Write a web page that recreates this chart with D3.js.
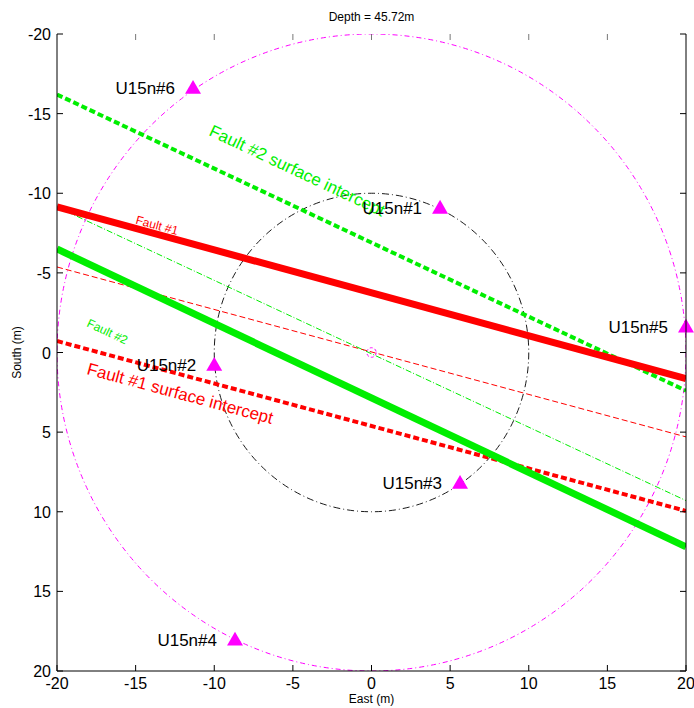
<!DOCTYPE html>
<html><head><meta charset="utf-8">
<script src="https://cdn.jsdelivr.net/npm/d3@7"></script>
<style>body{margin:0;background:#fff}svg{display:block}text{font-family:"Liberation Sans",Arial,sans-serif}</style>
</head><body><svg id="c" width="694" height="708"></svg>
<script>
// ---- data ----
const xTicks = [-20,-15,-10,-5,0,5,10,15,20];
const yTicks = [-20,-15,-10,-5,0,5,10,15,20];
const stationNames = ["U15n#1","U15n#2","U15n#3","U15n#4","U15n#5","U15n#6"];
const stationEast  = [4.36, -10.0, 5.63, -8.68, 20.0, -11.35];
const stationSouth = [-9.07, 0.8, 8.2, 18.05, -1.6, -16.6];
const circleRadii = [20, 10, 0.3];
// lines: [x1, y1, x2, y2]
const fault1Line      = [-20, -9.14, 20, 1.64];
const fault2Line      = [-20, -6.5, 20, 12.2];
const fault1Surface   = [-20, -0.72, 20, 9.95];
const fault2Surface   = [-20, -16.2, 20, 2.4];
const fault1Strike    = [-20, -5.37, 20, 5.3];
const fault2Strike    = [-20, -9.14, 20, 9.3];
const titleText = "Depth = 45.72m";

const svg = d3.select("#c");
const x = d3.scaleLinear().domain([-20,20]).range([57,686]);
const y = d3.scaleLinear().domain([-20,20]).range([34,671]);

svg.append("defs").append("clipPath").attr("id","clip")
  .append("rect").attr("x",57).attr("y",34).attr("width",629).attr("height",637);
const g = svg.append("g").attr("clip-path","url(#clip)");

// circles
const circStyles = [
  {stroke:"#ff00ff", dash:"5,3,1,3", w:1},
  {stroke:"#000", dash:"7,3,1,3", w:0.9},
  {stroke:"#ff00ff", dash:"3,2", w:1}
];
circleRadii.forEach((r,i)=>{
  g.append("ellipse").attr("cx",x(0)).attr("cy",y(0))
   .attr("rx",x(r)-x(0)).attr("ry",y(r)-y(0))
   .attr("fill","none").attr("stroke",circStyles[i].stroke)
   .attr("stroke-width",circStyles[i].w).attr("stroke-dasharray",circStyles[i].dash);
});

function drawLine(L, color, w, dash){
  g.append("line").attr("x1",x(L[0])).attr("y1",y(L[1])).attr("x2",x(L[2])).attr("y2",y(L[3]))
   .attr("stroke",color).attr("stroke-width",w).attr("stroke-dasharray",dash||null);
}
drawLine(fault1Strike, "#ff0000", 1, "6,3");
drawLine(fault2Strike, "#00ee00", 1, "6,2,1,2");
drawLine(fault1Surface, "#ff0000", 4, "6,3");
drawLine(fault2Surface, "#00ee00", 4, "6,3");
drawLine(fault1Line, "#ff0000", 7);
drawLine(fault2Line, "#00ee00", 7);

function angleOf(L){
  return Math.atan2(y(L[3])-y(L[1]), x(L[2])-x(L[0]))*180/Math.PI;
}
function lineLabel(txt, px, py, L, color, size){
  svg.append("text").attr("transform",`translate(${x(px)},${y(py)}) rotate(${angleOf(L)})`)
    .attr("fill",color).attr("font-size",size).text(txt);
}
lineLabel("Fault #2 surface intercept", -10.4, -13.66, fault2Surface, "#00ee00", 17);
lineLabel("Fault #1 surface intercept", -18.15, 1.35, fault1Surface, "#ff0000", 17);
lineLabel("Fault #2", -18.15, -1.66, fault2Line, "#00ee00", 12);
lineLabel("Fault #1", -15.04, -8.1, fault1Line, "#ff0000", 12);

// stations
const tri = d3.symbol().type(d3.symbolTriangle).size(110);
stationNames.forEach((n,i)=>{
  svg.append("path").attr("d",tri()).attr("fill","#ff00ff")
    .attr("transform",`translate(${x(stationEast[i])},${y(stationSouth[i])+1})`);
  svg.append("text").attr("x",x(stationEast[i])-18).attr("y",y(stationSouth[i])+6)
    .attr("text-anchor","end").attr("font-size",17).attr("fill","#000").text(n);
});

// axes
const ax = svg.append("g").attr("stroke","#000").attr("stroke-width",1);
ax.append("line").attr("x1",57).attr("y1",34).attr("x2",57).attr("y2",671);
ax.append("line").attr("x1",57).attr("y1",671).attr("x2",686).attr("y2",671);
ax.append("line").attr("x1",686).attr("y1",34).attr("x2",686).attr("y2",671);
xTicks.forEach(t=>{
  ax.append("line").attr("x1",x(t)).attr("x2",x(t)).attr("y1",671).attr("y2",665);
  ax.append("line").attr("x1",x(t)).attr("x2",x(t)).attr("y1",34).attr("y2",40).attr("stroke","#777");
  svg.append("text").attr("x",x(t)).attr("y",689).attr("text-anchor","middle").attr("font-size",16).text(t);
});
yTicks.forEach(t=>{
  ax.append("line").attr("x1",57).attr("x2",63).attr("y1",y(t)).attr("y2",y(t));
  ax.append("line").attr("x1",686).attr("x2",680).attr("y1",y(t)).attr("y2",y(t));
  svg.append("text").attr("x",51).attr("y",y(t)+6).attr("text-anchor","end").attr("font-size",16).text(t);
});
svg.append("text").attr("x",x(0)).attr("y",21).attr("text-anchor","middle").attr("font-size",12).text(titleText);
svg.append("text").attr("x",x(0)).attr("y",703).attr("text-anchor","middle").attr("font-size",12).text("East (m)");
svg.append("text").attr("transform",`translate(21,${y(0)}) rotate(-90)`).attr("text-anchor","middle").attr("font-size",12).text("South (m)");
</script></body></html>
